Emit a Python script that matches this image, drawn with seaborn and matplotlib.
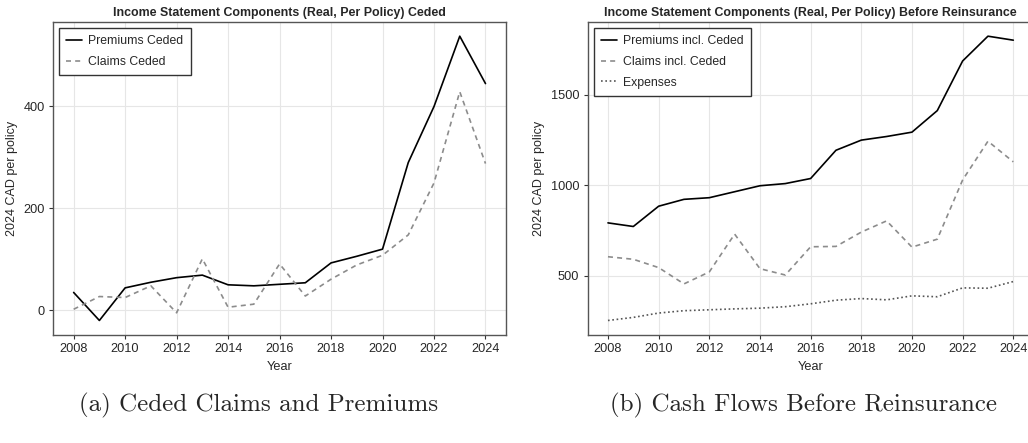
import pandas as pd
import matplotlib.pyplot as plt
import seaborn as sns
import numpy as np

years = list(range(2008, 2025))

# (a) ceded, 2024 CAD per policy
premiums_ceded = [35, -20, 44, 55, 64, 69, 50, 48, 51, 54, 93, 106, 120, 290, 400, 538, 445]
claims_ceded = [2, 27, 25, 48, -5, 101, 6, 12, 91, 28, 61, 89, 108, 148, 250, 429, 288]

# (b) before reinsurance
premiums_incl = [793, 773, 885, 923, 932, 965, 998, 1010, 1038, 1194, 1250, 1270, 1294, 1413, 1687, 1824, 1802]
claims_incl = [606, 592, 546, 456, 522, 731, 540, 505, 661, 663, 742, 804, 659, 703, 1030, 1244, 1130]
expenses = [254, 271, 295, 308, 313, 318, 322, 330, 346, 366, 375, 368, 390, 385, 434, 432, 469]

titles = ["Income Statement Components (Real, Per Policy) Ceded",
          "Income Statement Components (Real, Per Policy) Before Reinsurance"]
captions = ["(a) Ceded Claims and Premiums", "(b) Cash Flows Before Reinsurance"]

sns.set_theme(style="whitegrid")
plt.rcParams['font.family'] = ['Liberation Sans', 'DejaVu Sans']

styles = {
    'Premiums Ceded': ('black', (None, None)),
    'Claims Ceded': ('#8c8c8c', (3, 2.5)),
    'Premiums incl. Ceded': ('black', (None, None)),
    'Claims incl. Ceded': ('#8c8c8c', (3, 2.5)),
    'Expenses': ('#555555', (1, 1.6)),
}


def draw(ax, series, title):
    for name, vals in series.items():
        df = pd.DataFrame({'Year': years, 'value': vals})
        color, dash = styles[name]
        line = sns.lineplot(data=df, x='Year', y='value', ax=ax, color=color,
                            linewidth=1.2, label=name).lines[-1]
        if dash[0] is not None:
            line.set_dashes(dash)
    ax.set_title(title, fontsize=8.9, fontweight='bold', pad=4)
    ax.set_xlabel('Year', fontsize=9.2, labelpad=4)
    ax.set_ylabel('2024 CAD per policy', fontsize=9, labelpad=4)
    ax.set_xticks(np.arange(2008, 2025, 2))
    ax.tick_params(axis='both', labelsize=9.2, length=3, width=0.8,
                   color='#333333', pad=3, direction='out',
                   bottom=True, left=True)
    ax.grid(color='#e6e6e6', linewidth=0.8)
    for sp in ax.spines.values():
        sp.set_color('#555555')
        sp.set_linewidth(1.0)
    leg = ax.legend(loc='upper left', fontsize=8.8, frameon=True, fancybox=False,
                    edgecolor='#333333', framealpha=1, handlelength=1.3,
                    borderpad=0.6, labelspacing=0.7, handletextpad=0.5)
    leg.get_frame().set_linewidth(1.0)


fig = plt.figure(figsize=(10.28, 4.43), dpi=100)
ax1 = fig.add_axes([0.0516, 0.2445, 0.4407, 0.7059])
ax2 = fig.add_axes([0.5717, 0.2445, 0.4337, 0.7059])

draw(ax1, {'Premiums Ceded': premiums_ceded, 'Claims Ceded': claims_ceded}, titles[0])
ax1.set_yticks([0, 200, 400])
draw(ax2, {'Premiums incl. Ceded': premiums_incl, 'Claims incl. Ceded': claims_incl,
           'Expenses': expenses}, titles[1])
ax2.set_yticks([500, 1000, 1500])

fig.text(0.252, 0.085, captions[0], fontsize=18, family='cmr10', ha='center', va='center')
fig.text(0.782, 0.085, captions[1], fontsize=18, family='cmr10', ha='center', va='center')

fig.savefig('out.png', dpi=100)
